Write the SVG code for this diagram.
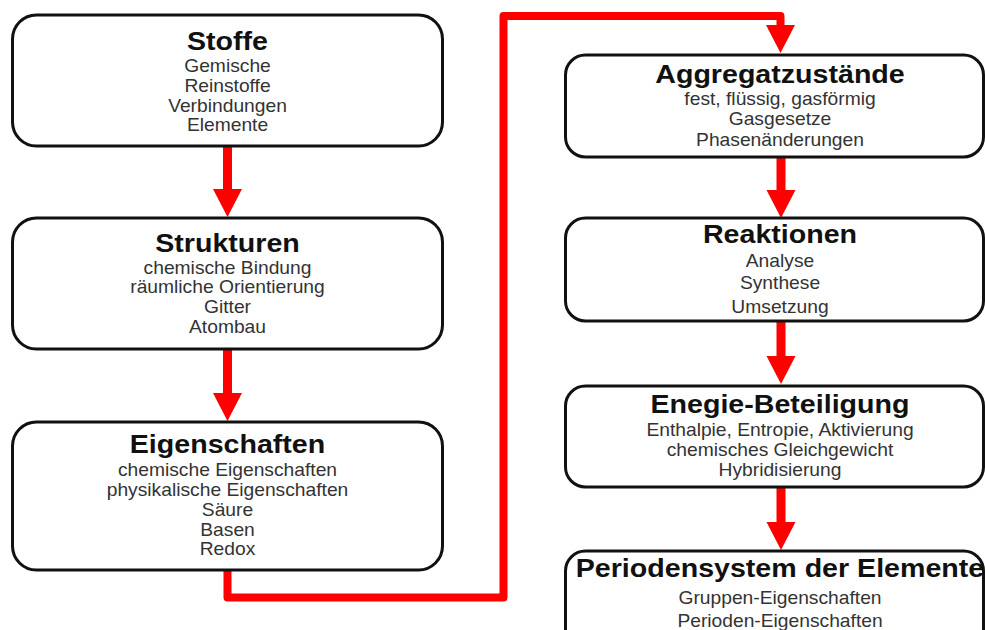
<svg xmlns="http://www.w3.org/2000/svg" width="985" height="630" viewBox="0 0 985 630">
<style>
.box{fill:#fff;stroke:#111;stroke-width:3}
.t{font-family:"Liberation Sans",Arial,sans-serif;font-weight:bold;font-size:26px;fill:#111;text-anchor:middle}
.s{font-family:"Liberation Sans",Arial,sans-serif;font-size:17.5px;fill:#333;text-anchor:middle}
.c{fill:none;stroke:#ff0000;stroke-width:9}
.p{fill:none;stroke:#ff0000;stroke-width:8;stroke-linejoin:round}
</style>
<defs>
<marker id="ah" markerUnits="userSpaceOnUse" markerWidth="30" markerHeight="30" refX="0" refY="14.5" orient="auto" overflow="visible">
<path d="M0,0 L28,14.5 L0,29 z" fill="#ff0000"/>
</marker>
</defs>
<rect width="985" height="630" fill="#fff"/>
<g id="connectors">
<line class="c" x1="227.5" y1="146" x2="227.5" y2="189" marker-end="url(#ah)"/>
<line class="c" x1="227.5" y1="349" x2="227.5" y2="393" marker-end="url(#ah)"/>
<path class="p" d="M227.5,570 V597.5 H503.5 V16 H780.5 V25" marker-end="url(#ah)"/>
<line class="c" x1="781" y1="157" x2="781" y2="190" marker-end="url(#ah)"/>
<line class="c" x1="781" y1="321" x2="781" y2="356" marker-end="url(#ah)"/>
<line class="c" x1="781" y1="487" x2="781" y2="522" marker-end="url(#ah)"/>
</g>
<g id="stoffe">
<rect class="box" x="12.5" y="15" width="430" height="131" rx="24"/>
<g transform="translate(227.5 0) scale(1.1 1)">
<text class="t" x="0" y="50">Stoffe</text>
<text class="s" x="0" y="72">Gemische</text>
<text class="s" x="0" y="92">Reinstoffe</text>
<text class="s" x="0" y="112">Verbindungen</text>
<text class="s" x="0" y="131">Elemente</text>
</g>
</g>
<g id="strukturen">
<rect class="box" x="12.5" y="218" width="430" height="131" rx="24"/>
<g transform="translate(227.5 0) scale(1.1 1)">
<text class="t" x="0" y="252">Strukturen</text>
<text class="s" x="0" y="274">chemische Bindung</text>
<text class="s" x="0" y="293">räumliche Orientierung</text>
<text class="s" x="0" y="313">Gitter</text>
<text class="s" x="0" y="333">Atombau</text>
</g>
</g>
<g id="eigenschaften">
<rect class="box" x="12.5" y="422" width="430" height="148" rx="24"/>
<g transform="translate(227.5 0) scale(1.1 1)">
<text class="t" x="0" y="453">Eigenschaften</text>
<text class="s" x="0" y="476">chemische Eigenschaften</text>
<text class="s" x="0" y="496">physikalische Eigenschaften</text>
<text class="s" x="0" y="516">Säure</text>
<text class="s" x="0" y="536">Basen</text>
<text class="s" x="0" y="555">Redox</text>
</g>
</g>
<g id="aggregatzustaende">
<rect class="box" x="565.5" y="55" width="418" height="102" rx="20"/>
<g transform="translate(780 0) scale(1.1 1)">
<text class="t" x="0" y="83">Aggregatzustände</text>
<text class="s" x="0" y="105">fest, flüssig, gasförmig</text>
<text class="s" x="0" y="125">Gasgesetze</text>
<text class="s" x="0" y="146">Phasenänderungen</text>
</g>
</g>
<g id="reaktionen">
<rect class="box" x="565.5" y="218" width="418" height="103" rx="20"/>
<g transform="translate(780 0) scale(1.1 1)">
<text class="t" x="0" y="243">Reaktionen</text>
<text class="s" x="0" y="267">Analyse</text>
<text class="s" x="0" y="289">Synthese</text>
<text class="s" x="0" y="313">Umsetzung</text>
</g>
</g>
<g id="energie">
<rect class="box" x="565.5" y="386" width="418" height="101" rx="20"/>
<g transform="translate(780 0) scale(1.1 1)">
<text class="t" x="0" y="413">Enegie-Beteiligung</text>
<text class="s" x="0" y="436">Enthalpie, Entropie, Aktivierung</text>
<text class="s" x="0" y="456">chemisches Gleichgewicht</text>
<text class="s" x="0" y="476">Hybridisierung</text>
</g>
</g>
<g id="periodensystem">
<rect class="box" x="565.5" y="551" width="418" height="100" rx="20"/>
<g transform="translate(780 0) scale(1.1 1)">
<text class="t" x="0" y="577">Periodensystem der Elemente</text>
<text class="s" x="0" y="604">Gruppen-Eigenschaften</text>
<text class="s" x="0" y="627">Perioden-Eigenschaften</text>
</g>
</g>
</svg>
